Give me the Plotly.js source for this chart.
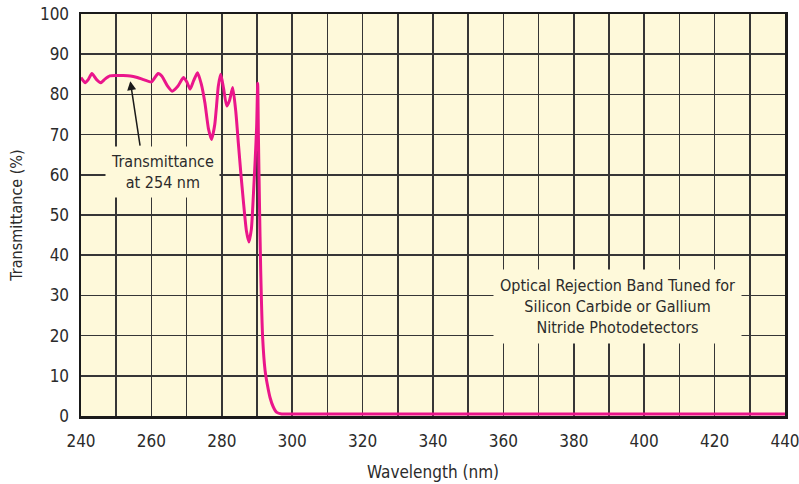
<!DOCTYPE html>
<html>
<head>
<meta charset="utf-8">
<script src="https://cdn.plot.ly/plotly-3.0.1.min.js"></script>
<style>
html,body{margin:0;padding:0;background:#ffffff;}
#chart{width:799px;height:484px;}
</style>
</head>
<body>
<div id="chart"></div>
<script>
const wavelength = [240.0, 241.2, 242.0, 243.1, 244.3, 245.6, 246.8, 248.2, 250, 252, 254, 256, 258, 260, 261.0, 261.9, 263, 264.5, 265.9, 267.5, 269.1, 270, 271, 272, 273.1, 274.2, 275.2, 276.2, 277.1, 278, 278.5, 279, 279.7, 280.5, 281.4, 282.2, 283.1, 284, 284.7, 285.4, 286.1, 287, 287.7, 288.4, 289, 289.5, 289.9, 290.2, 290.4, 290.7, 291.05, 291.6, 292.3, 293, 293.7, 294.6, 295.6, 297, 300, 350, 400, 440];
const transmittance = [84.2, 82.9, 83.6, 85.2, 83.8, 82.9, 83.8, 84.6, 84.7, 84.7, 84.6, 84.2, 83.6, 83.1, 84.2, 85.2, 84.5, 82.2, 80.8, 82.0, 84.2, 83.2, 81.3, 83.4, 85.4, 82.5, 77.9, 71.5, 68.8, 72.5, 77.1, 82, 85, 81.5, 77.1, 78.5, 81.7, 75.5, 67.9, 60.5, 53.7, 46, 43.3, 46.5, 55.4, 64, 72, 82.75, 69.6, 53, 36.2, 19.6, 11.3, 7.5, 4.6, 2.3, 0.9, 0.5, 0.5, 0.5, 0.5, 0.5];
const xTicks = [240, 260, 280, 300, 320, 340, 360, 380, 400, 420, 440];
const yTicks = [0, 10, 20, 30, 40, 50, 60, 70, 80, 90, 100];
const xTitle = 'Wavelength (nm)';
const yTitle = 'Transmittance (%)';
const note1 = 'Transmittance<br>at 254 nm';
const note1Pos = [263.1, 60.8];
const arrowTip = [254.0, 83.3];
const note2 = 'Optical Rejection Band Tuned for<br>Silicon Carbide or Gallium<br>Nitride Photodetectors';
const note2Pos = [392.5, 27.3];

const FONT = '"Liberation Sans Narrow", "DejaVu Sans Condensed", "Liberation Sans", Arial, sans-serif';
const BG = '#fef9da';
const TXT = '#2b2b2b';
const GRID = '#363636';

const trace = {
  x: wavelength,
  y: transmittance,
  type: 'scatter',
  mode: 'lines',
  line: {color: '#ea168b', width: 3, shape: 'spline', smoothing: 0.55},
  hoverinfo: 'skip'
};

const layout = {
  width: 799,
  height: 484,
  margin: {l: 81, r: 14, t: 14, b: 68},
  paper_bgcolor: '#ffffff',
  plot_bgcolor: BG,
  showlegend: false,
  font: {family: FONT, size: 16, color: TXT},
  xaxis: {
    range: [240, 440],
    tickvals: xTicks,
    ticktext: xTicks.map(String),
    ticks: '',
    ticklabeloverflow: 'allow',
    ticklabelstandoff: 8,
    showgrid: true,
    gridcolor: GRID,
    gridwidth: 1.5,
    minor: {dtick: 10, tick0: 240, showgrid: true, gridcolor: GRID, gridwidth: 1.5, ticks: ''},
    showline: true,
    linecolor: '#1a1a1a',
    linewidth: 2.5,
    mirror: true,
    zeroline: false,
    tickfont: {family: FONT, size: 17, color: TXT},
    title: {text: xTitle, font: {family: FONT, size: 17, color: TXT}, standoff: 16}
  },
  yaxis: {
    range: [0, 100],
    tickvals: yTicks,
    ticktext: yTicks.map(String),
    ticks: '',
    ticklabeloverflow: 'allow',
    showgrid: true,
    gridcolor: GRID,
    gridwidth: 1.5,
    showline: true,
    linecolor: '#1a1a1a',
    linewidth: 2.5,
    mirror: true,
    zeroline: false,
    ticklabelstandoff: 6,
    tickfont: {family: FONT, size: 17, color: TXT},
    title: {text: yTitle, font: {family: FONT, size: 16, color: TXT}, standoff: 14}
  },
  annotations: [
    {
      x: note1Pos[0], y: note1Pos[1], xref: 'x', yref: 'y',
      text: note1, showarrow: false,
      font: {family: FONT, size: 16, color: TXT},
      bgcolor: BG, borderpad: 5, align: 'center'
    },
    {
      x: arrowTip[0], y: arrowTip[1], xref: 'x', yref: 'y',
      text: '', showarrow: true,
      ax: 10, ay: 66,
      arrowhead: 2, arrowsize: 1.2, arrowwidth: 1.5, arrowcolor: '#1a1a1a'
    },
    {
      x: note2Pos[0], y: note2Pos[1], xref: 'x', yref: 'y',
      text: note2, showarrow: false,
      font: {family: FONT, size: 16, color: TXT},
      bgcolor: BG, borderpad: 6, align: 'center'
    }
  ]
};

Plotly.newPlot('chart', [trace], layout, {displayModeBar: false, staticPlot: true});
</script>
</body>
</html>
